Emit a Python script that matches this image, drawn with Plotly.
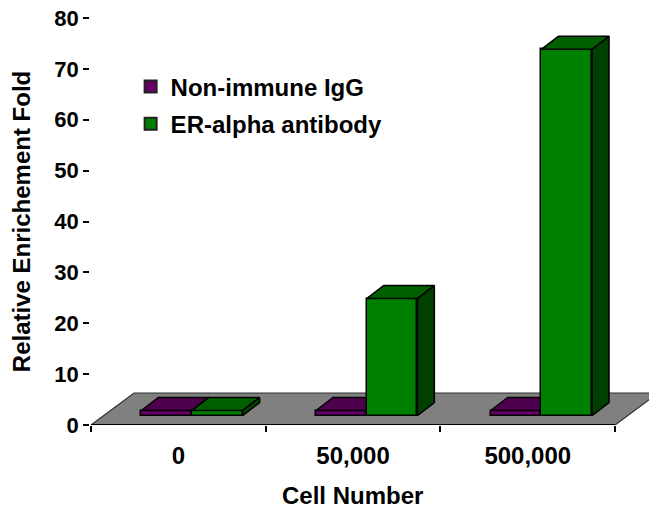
import plotly.graph_objects as go

categories = ["0", "50,000", "500,000"]
igg_values = [1, 1, 1]
er_values = [1, 23, 72]
y_ticks = [0, 10, 20, 30, 40, 50, 60, 70, 80]

FONT = "Liberation Sans, Arial, sans-serif"
PX_X = 174.7          # pixels per category
PX_Y = 5.09           # pixels per y unit
FLOOR_DX, FLOOR_DY = 43 / PX_X, 32 / PX_Y
BAR_DX, BAR_DY = 17 / PX_X, 13 / PX_Y
BAR_BASE = 1.85
BAR_W = 0.29
GROUP_START = 0.288
X_MAX = 558 / PX_X

series = [
    ("Non-immune IgG", igg_values, 0, "#660066", "#4d004d", "#330033"),
    ("ER-alpha antibody", er_values, 1, "#008000", "#006000", "#004000"),
]

fig = go.Figure()

# floor
fig.add_trace(go.Scatter(
    x=[0, 3, 3 + FLOOR_DX, FLOOR_DX, 0], y=[0, 0, FLOOR_DY, FLOOR_DY, 0],
    mode="lines", fill="toself", fillcolor="#808080",
    line=dict(color="#303030", width=1.2),
    showlegend=False, hoverinfo="skip", zorder=0))
# category axis line (only as long as the three categories)
fig.add_trace(go.Scatter(
    x=[0, 3], y=[0, 0], mode="lines", line=dict(color="black", width=2),
    cliponaxis=False, showlegend=False, hoverinfo="skip", zorder=0))

for name, vals, k, front, top, side in series:
    z = k + 1
    lefts = [i + GROUP_START + k * BAR_W for i in range(len(vals))]
    for left, v in zip(lefts, vals):
        t = BAR_BASE + v
        r = left + BAR_W
        fig.add_trace(go.Scatter(
            x=[left, r, r + BAR_DX, left + BAR_DX, left],
            y=[t, t, t + BAR_DY, t + BAR_DY, t],
            mode="lines", fill="toself", fillcolor=top,
            line=dict(color="#000", width=1.5),
            showlegend=False, hoverinfo="skip", zorder=z))
        fig.add_trace(go.Scatter(
            x=[r, r + BAR_DX, r + BAR_DX, r, r],
            y=[BAR_BASE, BAR_BASE + BAR_DY, t + BAR_DY, t, BAR_BASE],
            mode="lines", fill="toself", fillcolor=side,
            line=dict(color="#000", width=1.5),
            showlegend=False, hoverinfo="skip", zorder=z))
    fig.add_trace(go.Bar(
        x=[l + BAR_W / 2 for l in lefts], y=vals, base=BAR_BASE, width=BAR_W,
        marker=dict(color=front, line=dict(color="#000", width=1.5)),
        showlegend=False, name=name, zorder=z))
    fig.add_trace(go.Scatter(
        x=[None], y=[None], mode="markers", name=name, legendgroup=name,
        marker=dict(symbol="square", size=16, color=front,
                    line=dict(color="#222", width=1.5))))

fig.update_layout(
    width=649, height=508,
    margin=dict(l=91, r=0, t=18, b=82.5),
    paper_bgcolor="white", plot_bgcolor="white",
    barmode="overlay", bargap=0,
    font=dict(family=FONT, size=24, color="black", weight="bold"),
    legend=dict(
        xref="paper", yref="paper", x=0.071, y=0.886, xanchor="left", yanchor="top",
        bgcolor="rgba(0,0,0,0)", tracegroupgap=3, itemsizing="constant", itemwidth=30,
        font=dict(family=FONT, size=24, color="black", weight="bold")),
    annotations=[dict(
        text="<b>Cell Number</b>", xref="paper", yref="paper", x=0.468, y=-0.1735,
        xanchor="center", yanchor="middle", showarrow=False,
        font=dict(family=FONT, size=24, color="black"))],
)

fig.update_xaxes(
    range=[0, X_MAX], tickmode="array", tickvals=[0.5, 1.5, 2.5], ticktext=categories,
    ticks="", showgrid=False, zeroline=False, showline=False, automargin=False,
    ticklabelstandoff=14,
    minor=dict(tickmode="array", tickvals=[0, 1, 2, 3], ticks="outside",
               ticklen=6, tickwidth=1.5, tickcolor="black", showgrid=False),
    tickfont=dict(family=FONT, size=24, color="black", weight="bold"))
fig.update_yaxes(
    range=[0, 80], tickmode="array", tickvals=y_ticks,
    ticks="outside", ticklen=6, tickwidth=1.5, tickcolor="black",
    showgrid=False, zeroline=False, showline=True, linecolor="black", linewidth=1.5,
    automargin=False,
    title=dict(text="<b>Relative Enrichement Fold</b>", standoff=17,
               font=dict(family=FONT, size=24, color="black")),
    tickfont=dict(family=FONT, size=22, color="black", weight="bold"))

fig.write_html("out.html", config=dict(displayModeBar=False),
               post_script="document.body.style.margin='0';")
